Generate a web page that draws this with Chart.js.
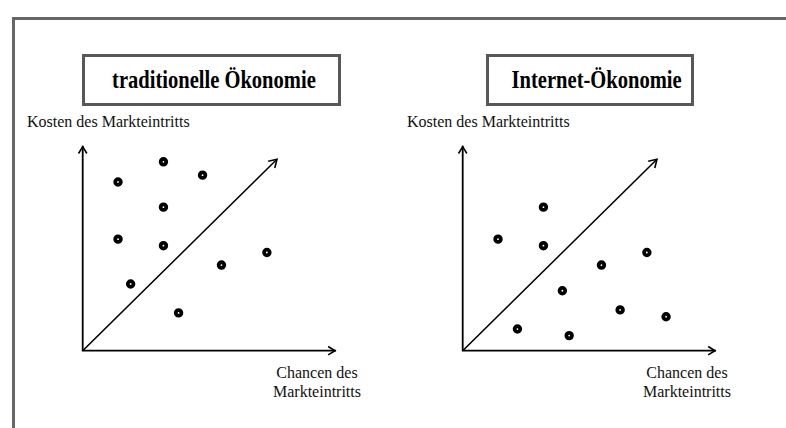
<!DOCTYPE html>
<html>
<head>
<meta charset="utf-8">
<script src="https://cdn.jsdelivr.net/npm/chart.js@4.4.1/dist/chart.umd.min.js"></script>
<style>
  html, body { margin: 0; padding: 0; background: #fff; }
  body { width: 786px; height: 428px; position: relative; overflow: hidden;
         font-family: 'Liberation Serif', Tinos, 'Times New Roman', 'DejaVu Serif', serif; color: #111; }
  .frame { position: absolute; left: 12px; top: 17px; width: 800px; height: 500px;
           border-left: 3px solid #666; border-top: 3px solid #666; }
  .titlebox { position: absolute; height: 46px; border: 3px solid #585858; background: #fff;
              font-weight: bold; font-size: 26px; line-height: 46px; text-align: center;
              white-space: nowrap; color: #000; }
  .titlebox span { display: inline-block; transform: scaleX(0.79); }
  .lbl { position: absolute; font-size: 16px; white-space: nowrap; }
  .xlbl { position: absolute; font-size: 16px; line-height: 18.5px; text-align: center;
          width: 120px; white-space: nowrap; }
  .wrap { position: absolute; width: 280px; height: 230px; }
</style>
</head>
<body>
<div class="frame"></div>

<div class="titlebox" style="left:82px; top:54px; width:253px;"><span>traditionelle Ökonomie</span></div>
<div class="titlebox" style="left:486px; top:54px; width:202px;"><span>Internet-Ökonomie</span></div>

<div class="lbl" style="left:27px; top:113px;">Kosten des Markteintritts</div>
<div class="lbl" style="left:407px; top:113px;">Kosten des Markteintritts</div>

<div class="xlbl" style="left:257px; top:364px;">Chancen des<br>Markteintritts</div>
<div class="xlbl" style="left:627px; top:364px;">Chancen des<br>Markteintritts</div>

<div class="wrap" style="left:70px; top:134px;"><canvas id="tradChart"></canvas></div>
<div class="wrap" style="left:450px; top:134px;"><canvas id="netChart"></canvas></div>

<script>
// axis extent (arbitrary units)
const xMax = 10;
const yMax = 8.1;

// traditionelle Ökonomie: firms (Chancen, Kosten)
const tradX = [1.4, 3.2, 4.75, 3.2, 1.4, 3.2, 7.3, 5.5, 1.9, 3.8];
const tradY = [6.7, 7.5, 6.97, 5.7, 4.43, 4.17, 3.9, 3.4, 2.65, 1.5];

// Internet-Ökonomie
const netX = [3.2, 1.4, 3.2, 7.3, 5.5, 3.95, 6.24, 8.06, 2.17, 4.22];
const netY = [5.7, 4.43, 4.17, 3.9, 3.4, 2.38, 1.62, 1.35, 0.86, 0.6];

// diagonal trend arrow
const diagX = [0, 7.7];
const diagY = [0, 7.6];

function drawArrowHead(ctx, x1, y1, x2, y2, size) {
  const a = Math.atan2(y2 - y1, x2 - x1);
  ctx.beginPath();
  ctx.moveTo(x2 - size * Math.cos(a - 0.55), y2 - size * Math.sin(a - 0.55));
  ctx.lineTo(x2, y2);
  ctx.lineTo(x2 - size * Math.cos(a + 0.55), y2 - size * Math.sin(a + 0.55));
  ctx.stroke();
}

// axes with arrow heads + arrow head on the diagonal
const arrowAxes = {
  id: 'arrowAxes',
  beforeDatasetsDraw(chart) {
    const { ctx, scales: { x, y } } = chart;
    const x0 = x.getPixelForValue(0), y0 = y.getPixelForValue(0);
    const xe = x.getPixelForValue(xMax), ye = y.getPixelForValue(yMax);
    ctx.save();
    ctx.strokeStyle = '#000';
    ctx.lineWidth = 1.8;
    ctx.lineCap = 'square';
    ctx.beginPath();
    ctx.moveTo(x0, y0); ctx.lineTo(xe, y0);
    ctx.moveTo(x0, y0); ctx.lineTo(x0, ye);
    ctx.stroke();
    ctx.lineCap = 'butt';
    ctx.lineWidth = 1.6;
    drawArrowHead(ctx, x0, y0, xe, y0, 8);
    drawArrowHead(ctx, x0, y0, x0, ye, 8);
    ctx.restore();
  },
  afterDatasetsDraw(chart) {
    const { ctx, scales: { x, y } } = chart;
    ctx.save();
    ctx.strokeStyle = '#000';
    ctx.lineWidth = 1.6;
    drawArrowHead(ctx,
      x.getPixelForValue(diagX[0]), y.getPixelForValue(diagY[0]),
      x.getPixelForValue(diagX[1]), y.getPixelForValue(diagY[1]), 9);
    ctx.restore();
  }
};

function makeChart(id, xs, ys) {
  const pts = xs.map((v, i) => ({ x: v, y: ys[i] }));
  const diag = diagX.map((v, i) => ({ x: v, y: diagY[i] }));
  return new Chart(document.getElementById(id), {
    type: 'scatter',
    data: {
      datasets: [
        {
          data: diag,
          showLine: true,
          borderColor: '#000',
          borderWidth: 1.6,
          pointRadius: 0,
          clip: false
        },
        {
          data: pts,
          pointRadius: 2.8,
          pointBorderWidth: 3.8,
          pointBackgroundColor: '#fff',
          pointBorderColor: '#000',
          clip: false
        }
      ]
    },
    options: {
      responsive: true,
      maintainAspectRatio: false,
      animation: false,
      layout: { padding: { left: 12.7, top: 12.7, right: 15, bottom: 13.3 } },
      plugins: { legend: { display: false }, tooltip: { enabled: false } },
      scales: {
        x: { display: false, min: 0, max: xMax },
        y: { display: false, min: 0, max: yMax }
      }
    },
    plugins: [arrowAxes]
  });
}

makeChart('tradChart', tradX, tradY);
makeChart('netChart', netX, netY);
</script>
</body>
</html>
